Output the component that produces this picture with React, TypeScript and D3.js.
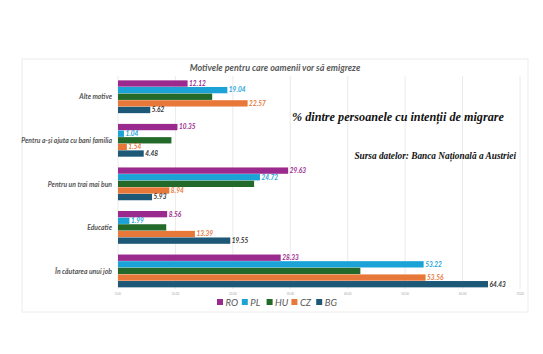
import * as React from "react";
import * as d3 from "d3";

const categories = ["Alte motive", "Pentru a-și ajuta cu bani familia", "Pentru un trai mai bun", "Educatie", "În căutarea unui job"];
const countries = ["RO", "PL", "HU", "CZ", "BG"];
const colors = ["#9b2a8f", "#1ba3d8", "#22692a", "#e8773a", "#1e5877"];
const labelColors = ["#9b2a8f", "#1ba3d8", "#22692a", "#e8773a", "#333333"];
const ro = [12.12, 10.35, 29.63, 8.56, 28.33];
const pl = [19.04, 1.04, 24.72, 1.99, 53.22];
const hu = [16.4, 9.3, 23.7, 8.4, 42.2];
const cz = [22.57, 1.54, 8.94, 13.39, 53.56];
const bg = [5.62, 4.48, 5.93, 19.55, 64.43];
const series = [ro, pl, hu, cz, bg];
const showLabel = [true, true, false, true, true];
const ticks = [0, 10, 20, 30, 40, 50, 60, 70];

export default function App() {
    const W = 543, H = 354;
    const x = d3.scaleLinear().domain([0, 70]).range([118, 520]);
    const y = d3.scaleBand<string>().domain(categories).range([76, 292]).paddingInner(0.24).paddingOuter(0.1);
    const inner = d3.scaleBand<string>().domain(countries).range([0, y.bandwidth()]);

    const legendX = d3.scaleBand<string>().domain(countries).range([217, 341]);

    return <svg width={W} height={H} style={{ position: "absolute", left: 0, top: 0, background: "#fff" }}
        fontFamily="Lato, 'Open Sans', sans-serif">
        <rect x={22} y={59} width={506} height={253} fill="none" stroke="#ececec" strokeWidth={1} />
        <text x={275} y={71} textAnchor="middle" fontSize={9} fontWeight="bold" fontStyle="italic" fill="#595959">
            Motivele pentru care oamenii vor să emigreze
        </text>
        {ticks.map(t => <g key={t}>
            <line x1={x(t)} x2={x(t)} y1={76} y2={289} stroke="#e4e4e4" strokeWidth={0.8} />
            <text x={x(t)} y={295} textAnchor="middle" fontSize={3} fill="#aaa">{t.toFixed(2)}</text>
        </g>)}
        {categories.map((c, ci) => <g key={c}>
            <text x={112} y={(y(c) || 0) + y.bandwidth() / 2 + 2.5} textAnchor="end" fontSize={6.8} fontStyle="italic" fontWeight="bold" fill="#555">{c}</text>
            {countries.map((k, si) => {
                const v = series[si][ci];
                const by = (y(c) || 0) + (inner(k) || 0);
                return <g key={k}>
                    <rect x={x(0)} y={by} width={x(v) - x(0)} height={inner.bandwidth() - 0.3} fill={colors[si]} />
                    {showLabel[si] && <text x={x(v) + 1.5} y={by + inner.bandwidth() / 2 + 2.2} fontSize={6.5} fontStyle="italic" fontWeight="bold" fill={labelColors[si]}>{v.toFixed(2)}</text>}
                </g>;
            })}
        </g>)}
        {countries.map((k, si) => <g key={k} transform={`translate(${legendX(k)},302)`}>
            <rect x={0} y={-3} width={6} height={6} fill={colors[si]} />
            <text x={8.5} y={3.5} fontSize={9.5} fontStyle="italic" fill="#595959">{k}</text>
        </g>)}
        <text x={292} y={121} fontFamily="Liberation Serif" fontSize={12.2} fontWeight="bold" fontStyle="italic" fill="#111">
            % dintre persoanele cu intenții de migrare
        </text>
        <text x={516} y={159} textAnchor="end" fontFamily="Liberation Serif" fontSize={9.3} fontWeight="bold" fontStyle="italic" fill="#111">
            Sursa datelor: Banca Națională a Austriei
        </text>
    </svg>;
}
